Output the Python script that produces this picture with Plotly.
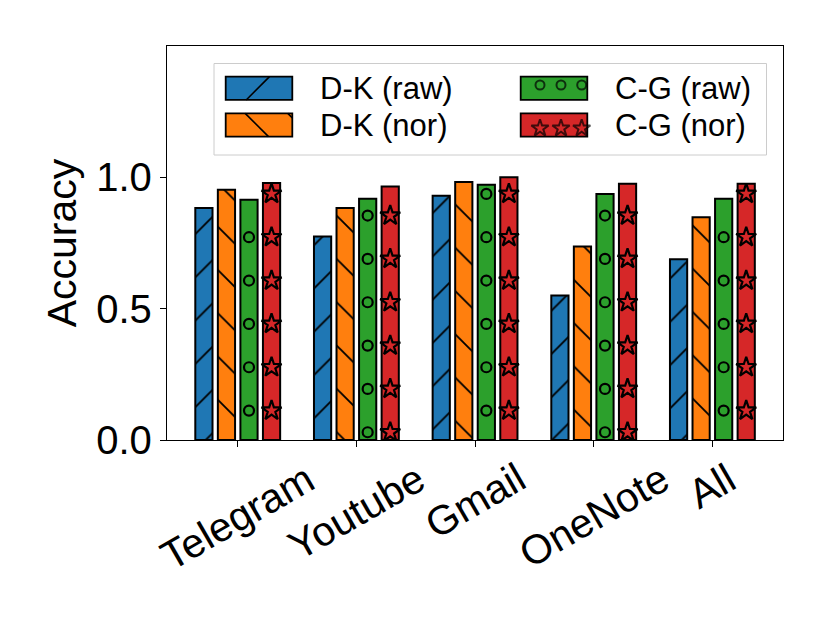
import plotly.graph_objects as go

# data
apps = ["Telegram", "Youtube", "Gmail", "OneNote", "All"]
series_names = ["D-K (raw)", "D-K (nor)", "C-G (raw)", "C-G (nor)"]
dk_raw = [0.883, 0.775, 0.930, 0.550, 0.688]
dk_nor = [0.953, 0.883, 0.982, 0.737, 0.848]
cg_raw = [0.915, 0.918, 0.972, 0.937, 0.918]
cg_nor = [0.978, 0.965, 1.000, 0.976, 0.976]
y_ticks = [0.0, 0.5, 1.0]
y_tick_labels = ["0.0", "0.5", "1.0"]

colors = ["#1f77b4", "#ff7f0e", "#2ca02c", "#d62728"]
hatches = ["/", "\\", "o", "*"]
FONT = "Liberation Sans, Arial, sans-serif"

# plot area in page pixels; the html body adds an 8px offset
OFF = 8
L, R, T, B = 167, 783, 46, 440

step = 0.19      # distance between bars in a group
bar_w = 0.145
hatch_step = 0.165   # vertical repeat of circle / star hatch
hatch_phase = 0.112

fig = go.Figure()

all_vals = [dk_raw, dk_nor, cg_raw, cg_nor]
for j, (name, vals) in enumerate(zip(series_names, all_vals)):
    xs = [i + (j - 1.5) * step for i in range(len(apps))]
    marker = dict(color=colors[j], line=dict(color="black", width=2))
    if hatches[j] in ("/", "\\"):
        marker["pattern"] = dict(shape=hatches[j], size=30.6, solidity=0.06,
                                 fgcolor="black", fgopacity=1)
    fig.add_trace(go.Bar(x=xs, y=vals, width=bar_w, name=name,
                         marker=marker, showlegend=False))
    if hatches[j] in ("o", "*"):
        mx, my = [], []
        for i, v in enumerate(vals):
            y = hatch_phase if i % 2 == 0 else hatch_phase - hatch_step / 2
            while y <= v - 0.02:
                mx.append(xs[i])
                my.append(y)
                y += hatch_step
        sym = "circle-open" if hatches[j] == "o" else "star-open"
        size = 10 if hatches[j] == "o" else 15
        fig.add_trace(go.Scatter(
            x=mx, y=my, mode="markers", hoverinfo="skip", showlegend=False,
            marker=dict(symbol=sym, size=size, color="black",
                        line=dict(color="black", width=2.2))))

# legend drawn by hand (page pixel coords on a hidden overlay axis)
shapes = [dict(type="rect", xref="x2", yref="y2", x0=214, x1=766.5, y0=63.5, y1=155,
               line=dict(color="#cccccc", width=1), fillcolor="rgba(255,255,255,0.8)",
               layer="below")]
annotations = []
col_x = [225.7, 520.7]
row_y = [88.3, 125.0]
sw_w, sw_h = 66.6, 23.3
leg_mx, leg_my, leg_sym, leg_size = [], [], [], []
for j, name in enumerate(series_names):
    x0 = col_x[j // 2]
    yc = row_y[j % 2]
    y0, y1 = yc - sw_h / 2, yc + sw_h / 2
    shapes.append(dict(type="rect", xref="x2", yref="y2", x0=x0, x1=x0 + sw_w, y0=y0, y1=y1,
                       fillcolor=colors[j], line=dict(color="black", width=1.8),
                       layer="below"))
    if hatches[j] == "/":
        shapes.append(dict(type="line", xref="x2", yref="y2", x0=x0 + 20.5, y0=y1,
                           x1=x0 + 20.5 + sw_h, y1=y0, line=dict(color="black", width=1.6)))
    elif hatches[j] == "\\":
        shapes.append(dict(type="line", xref="x2", yref="y2", x0=x0 + 19.5, y0=y0,
                           x1=x0 + 19.5 + sw_h, y1=y1, line=dict(color="black", width=1.6)))
        shapes.append(dict(type="line", xref="x2", yref="y2", x0=x0 + sw_w - 4.5, y0=y0,
                           x1=x0 + sw_w, y1=y0 + 4.5, line=dict(color="black", width=1.6)))
    else:
        for dx in (19.3, 40.3, 61.0):
            leg_mx.append(x0 + dx)
            if hatches[j] == "o":
                leg_my.append(yc - 3.3)
                leg_sym.append("circle-open")
                leg_size.append(9)
            else:
                leg_my.append(yc + 3.3)
                leg_sym.append("star-open")
                leg_size.append(13)
    annotations.append(dict(xref="x2", yref="y2", x=x0 + 92.6, y=yc, text=name,
                            showarrow=False, xanchor="left", yanchor="middle",
                            font=dict(family=FONT, size=31, color="black")))

fig.add_trace(go.Scatter(x=leg_mx, y=leg_my, xaxis="x2", yaxis="y2", mode="markers",
                         hoverinfo="skip", showlegend=False,
                         marker=dict(symbol=leg_sym, size=leg_size, color="black",
                                     line=dict(color="black", width=2))))

# rotated category labels, centred under the ticks like matplotlib
for i, app in enumerate(apps):
    annotations.append(dict(xref="x", yref="paper", x=i, y=0, yshift=-12, text=app,
                            textangle=-30, showarrow=False, xanchor="center",
                            yanchor="top", font=dict(family=FONT, size=41, color="black")))

fig.update_layout(
    width=830, height=623,
    margin=dict(l=L - OFF, r=830 - (R - OFF), t=T - OFF, b=623 - (B - OFF)),
    plot_bgcolor="white", paper_bgcolor="white",
    barmode="overlay",
    showlegend=False,
    font=dict(family=FONT, color="black"),
    xaxis=dict(range=[-0.596, 4.595], tickvals=list(range(len(apps))),
               showticklabels=False, ticks="outside", ticklen=6, tickwidth=1.3,
               tickcolor="black", showline=True, linecolor="black", linewidth=1.3,
               mirror=True, showgrid=False, zeroline=False),
    yaxis=dict(range=[0, 1.5], tickvals=y_ticks, ticktext=y_tick_labels,
               ticks="outside", ticklen=6, tickwidth=1.3, tickcolor="black",
               tickfont=dict(family=FONT, size=40, color="black"),
               showline=True, linecolor="black", linewidth=1.3, mirror=True,
               showgrid=False, zeroline=False,
               title=dict(text="Accuracy", standoff=6,
                          font=dict(family=FONT, size=41, color="black"))),
    xaxis2=dict(overlaying="x", anchor="y2", range=[L, R], visible=False),
    yaxis2=dict(overlaying="y", anchor="x2", range=[B, T], visible=False),
    shapes=shapes,
    annotations=annotations,
)

fig.write_html("out.html")
